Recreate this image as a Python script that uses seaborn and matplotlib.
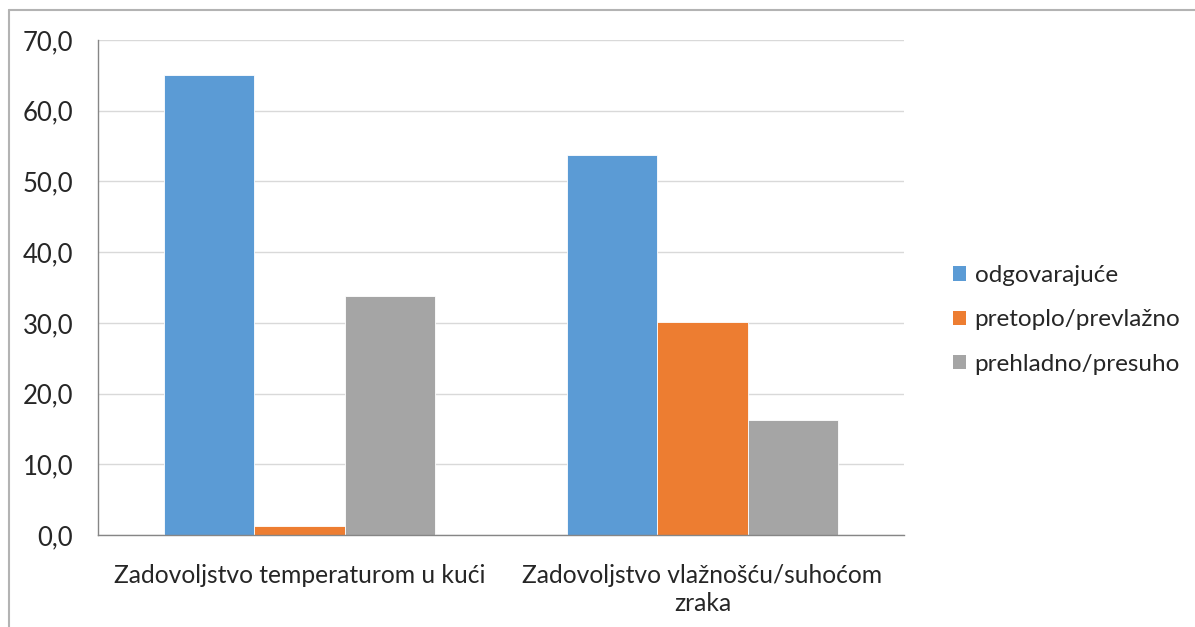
import matplotlib
matplotlib.use("Agg")
import matplotlib.pyplot as plt
import pandas as pd
import seaborn as sns
from matplotlib.patches import Patch

# podaci
kategorije = ["Zadovoljstvo temperaturom u kući", "Zadovoljstvo vlažnošću/suhoćom\nzraka"]
serije = ["odgovarajuće", "pretoplo/prevlažno", "prehladno/presuho"]
odgovarajuce = [65.0, 53.8]
pretoplo = [1.3, 30.1]
prehladno = [33.8, 16.3]
y_ticks = [0, 10, 20, 30, 40, 50, 60, 70]

boje = ["#5B9BD5", "#ED7D31", "#A5A5A5"]

df = pd.DataFrame({
    "kategorija": kategorije * 3,
    "serija": [serije[0]] * 2 + [serije[1]] * 2 + [serije[2]] * 2,
    "vrijednost": odgovarajuce + pretoplo + prehladno,
})

sns.set_style("white")
plt.rcParams["font.family"] = ["Lato", "DejaVu Sans"]

fig = plt.figure(figsize=(11.95, 6.27), dpi=100)
ax = fig.add_axes([98 / 1195, 1 - 535 / 627, (904 - 98) / 1195, (535 - 40) / 627])

sns.barplot(data=df, x="kategorija", y="vrijednost", hue="serija",
            hue_order=serije, palette=boje, width=0.67, saturation=1,
            edgecolor="white", linewidth=0.6, ax=ax, legend=False)

ax.set_ylim(0, 70)
ax.set_xlim(-0.5, 1.5)
ax.set_yticks(y_ticks)
ax.set_yticklabels([f"{v:.1f}".replace(".", ",") for v in y_ticks], fontsize=18.5)
ax.set_xticks([-0.5, 0.5, 1.5], minor=True)
ax.tick_params(axis="x", which="major", length=0, labelsize=17.7, pad=21)
ax.tick_params(axis="x", which="minor", length=8, color="#868686", width=1)
ax.tick_params(axis="y", length=8, color="#868686", width=1, pad=10, direction="out")
ax.set_xlabel("")
ax.set_ylabel("")
ax.yaxis.grid(True, color="#D9D9D9", linewidth=1)
ax.set_axisbelow(True)
for s in ["top", "right"]:
    ax.spines[s].set_visible(False)
for s in ["left", "bottom"]:
    ax.spines[s].set_color("#868686")
    ax.spines[s].set_linewidth(1)

for lbl in ax.get_xticklabels():
    lbl.set_multialignment("center")
    lbl.set_linespacing(1.28)

ruke = [Patch(facecolor=b, edgecolor="none") for b in boje]
fig.legend(ruke, serije, loc="center left", bbox_to_anchor=(943 / 1195, 1 - 320 / 627),
           frameon=False, fontsize=17.5, handlelength=0.55, handleheight=0.55,
           handletextpad=0.35, labelspacing=0.95, borderaxespad=0)

# okvir grafikona
fig.add_artist(plt.Line2D([9 / 1195, 9 / 1195], [0, 1 - 10 / 627],
                          transform=fig.transFigure, color="#B3B3B3", linewidth=1.5))
fig.add_artist(plt.Line2D([9 / 1195, 1], [1 - 10 / 627, 1 - 10 / 627],
                          transform=fig.transFigure, color="#B3B3B3", linewidth=1.5))

fig.savefig("out.png", dpi=100)
